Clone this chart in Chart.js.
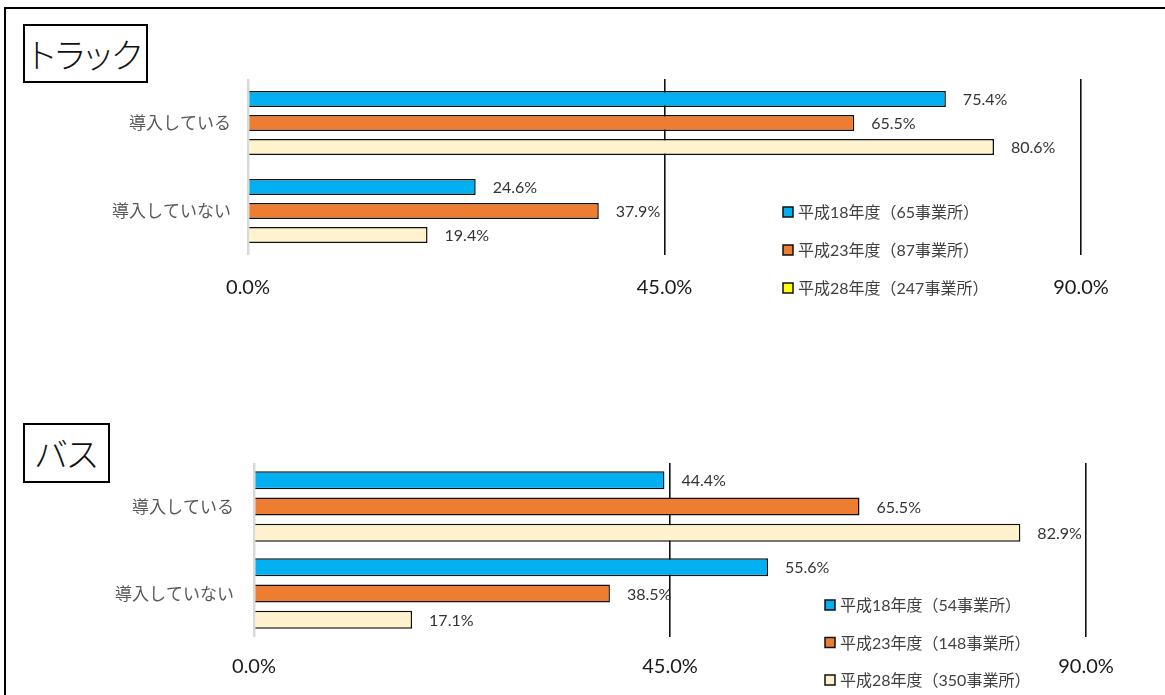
<!DOCTYPE html>
<html>
<head>
<meta charset="utf-8">
<script src="https://cdn.jsdelivr.net/npm/chart.js@4"></script>
<style>
  body { margin: 0; width: 1165px; height: 695px; overflow: hidden; background: #fff; position: relative; }
  .frame { position: absolute; left: 4px; top: 7px; width: 1200px; height: 720px; border: 2px solid #000; }
  .title { position: absolute; box-sizing: border-box; border: 2px solid #000; background: #fff;
           font-family: "Noto Sans CJK JP", sans-serif; font-weight: 300; font-size: 34px; line-height: 1;
           font-feature-settings: "palt"; display: flex; align-items: center; justify-content: center; color: #111; }
  canvas { position: absolute; left: 0; }
</style>
</head>
<body>
<div class="frame"></div>
<canvas id="truck" width="1165" height="330" style="top:0"></canvas>
<canvas id="bus" width="1165" height="365" style="top:330px"></canvas>
<div class="title" style="left:23px;top:24px;width:125px;height:59px">トラック</div>
<div class="title" style="left:23px;top:423px;width:87px;height:60px">バス</div>

<script>
const categories = ['導入している', '導入していない'];
const tickValues = [0, 45, 90];

const truckSeries = ['平成18年度（65事業所）', '平成23年度（87事業所）', '平成28年度（247事業所）'];
const truckH18 = [75.4, 24.6];
const truckH23 = [65.5, 37.9];
const truckH28 = [80.6, 19.4];

const busSeries = ['平成18年度（54事業所）', '平成23年度（148事業所）', '平成28年度（350事業所）'];
const busH18 = [44.4, 55.6];
const busH23 = [65.5, 38.5];
const busH28 = [82.9, 17.1];

const barColors = ['#00B0F0', '#ED7D31', '#FFF2CC'];
const latinFont = 'Lato, "Noto Sans CJK JP", sans-serif';

// value text to the right of each bar
const barValueLabels = {
  id: 'barValueLabels',
  afterDatasetsDraw(chart, args, opts) {
    const ctx = chart.ctx;
    ctx.save();
    ctx.font = opts.font;
    ctx.fillStyle = opts.color;
    ctx.textAlign = 'left';
    ctx.textBaseline = 'middle';
    chart.data.datasets.forEach((ds, i) => {
      chart.getDatasetMeta(i).data.forEach((bar, j) => {
        ctx.fillText(ds.data[j].toFixed(1) + '%', bar.x + opts.offset, bar.y + 1);
      });
    });
    ctx.restore();
  }
};

// stacked legend drawn inside the plot, lower right
const sideLegend = {
  id: 'sideLegend',
  afterDraw(chart, args, opts) {
    const ctx = chart.ctx;
    ctx.save();
    ctx.font = opts.font;
    ctx.textAlign = 'left';
    ctx.textBaseline = 'middle';
    chart.data.datasets.forEach((ds, i) => {
      const y = opts.top + i * opts.rowGap;
      ctx.fillStyle = opts.swatches[i];
      ctx.fillRect(opts.left, y - 5, 10, 10);
      ctx.lineWidth = 1.5;
      ctx.strokeStyle = '#111';
      ctx.strokeRect(opts.left, y - 5, 10, 10);
      ctx.fillStyle = opts.color;
      ctx.fillText(ds.label, opts.left + 15, y + 1);
    });
    ctx.restore();
  }
};

function makeChart(id, seriesLabels, seriesValues, g) {
  return new Chart(document.getElementById(id), {
    type: 'bar',
    data: {
      labels: categories,
      datasets: seriesValues.map((vals, i) => ({
        label: seriesLabels[i],
        data: vals,
        backgroundColor: barColors[i],
        borderColor: '#111',
        borderWidth: 1.5,
        borderSkipped: 'start',
        categoryPercentage: g.catPct,
        barPercentage: g.barPct
      }))
    },
    plugins: [barValueLabels, sideLegend],
    options: {
      indexAxis: 'y',
      responsive: false,
      animation: false,
      layout: { padding: { top: g.top, right: g.right, left: 0, bottom: 0 } },
      scales: {
        x: {
          min: 0,
          max: 90,
          afterBuildTicks: s => { s.ticks = tickValues.map(v => ({ value: v })); },
          afterFit: s => { s.height = g.xHeight; },
          border: { display: false },
          grid: {
            drawTicks: false,
            color: c => c.tick && c.tick.value === 0 ? '#D9D9D9' : '#111',
            lineWidth: c => c.tick && c.tick.value === 0 ? 2.5 : 1.6
          },
          ticks: {
            padding: g.xPad,
            color: '#1a1a1a',
            font: { family: latinFont, size: 20 },
            callback: v => v.toFixed(1) + '%'
          }
        },
        y: {
          afterFit: s => { s.width = g.yWidth; },
          border: { display: false },
          grid: { display: false },
          ticks: {
            padding: g.yPad,
            color: '#595959',
            font: { family: '"Noto Sans CJK JP", sans-serif', size: 17 }
          }
        }
      },
      plugins: {
        legend: { display: false },
        tooltip: { enabled: false },
        barValueLabels: { font: '16px ' + latinFont, color: '#333', offset: 17 },
        sideLegend: {
          font: '16px ' + latinFont, color: '#404040',
          left: g.legendLeft, top: g.legendTop, rowGap: g.legendGap, swatches: g.swatches
        }
      }
    }
  });
}

makeChart('truck', truckSeries, [truckH18, truckH23, truckH28], {
  top: 79, right: 84, yWidth: 248, xHeight: 75, xPad: 21, yPad: 9,
  catPct: 0.818, barPct: 0.667,
  legendLeft: 783, legendTop: 212, legendGap: 38,
  swatches: ['#00B0F0', '#ED7D31', '#FFFF00']
});

makeChart('bus', busSeries, [busH18, busH23, busH28], {
  top: 133, right: 79, yWidth: 254, xHeight: 58, xPad: 18, yPad: 12,
  catPct: 0.907, barPct: 0.685,
  legendLeft: 825, legendTop: 275, legendGap: 37.5,
  swatches: ['#00B0F0', '#ED7D31', '#FFF2CC']
});
</script>
</body>
</html>
